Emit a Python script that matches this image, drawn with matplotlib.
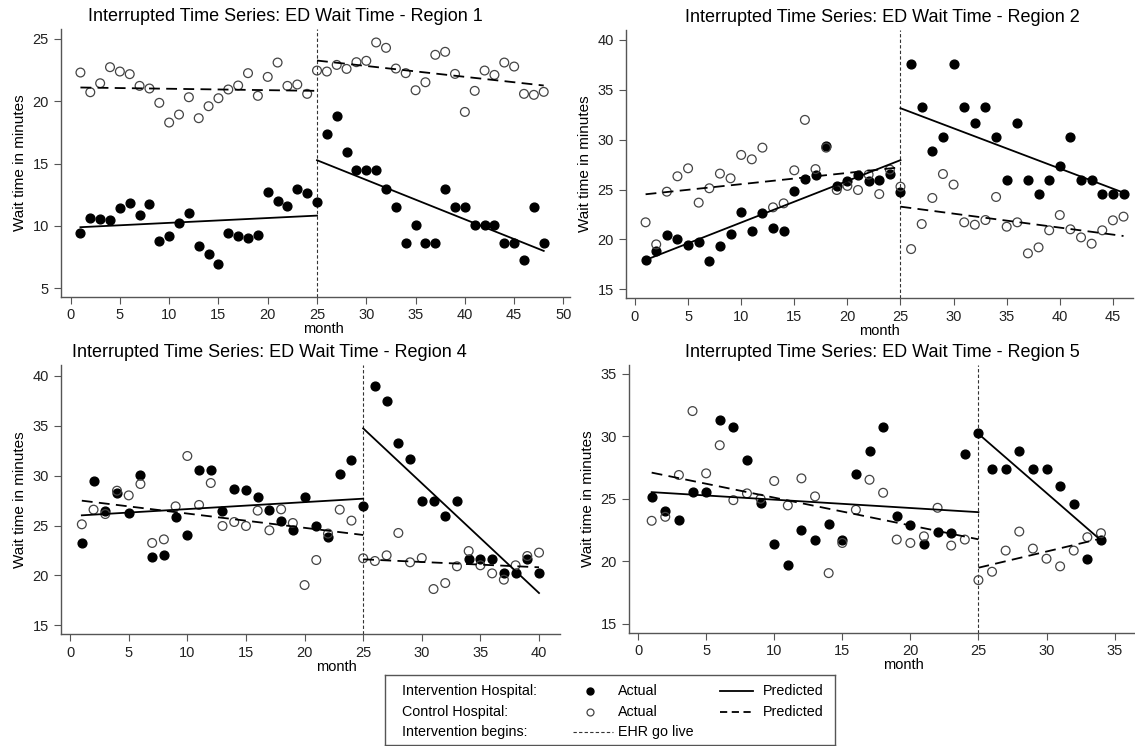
import matplotlib
matplotlib.use("Agg")
import matplotlib.pyplot as plt
import numpy as np

plt.rcParams['font.family'] = ['Liberation Sans', 'DejaVu Sans']

# Region 1
r1_month = np.arange(1, 49)
r1_int = [9.47, 10.6, 10.53, 10.45, 11.47, 11.87, 10.9, 11.74, 8.8, 9.17, 10.24, 11.07,
          8.37, 7.78, 6.98, 9.47, 9.17, 9.06, 9.28, 12.7, 12.03, 11.63, 13.0, 12.62, 11.95,
          17.38, 18.8, 15.9, 14.5, 14.5, 14.5, 13.0, 11.55, 8.66, 10.1, 8.66, 8.66, 13.0,
          11.55, 11.55, 10.1, 10.1, 10.1, 8.66, 8.66, 7.25, 11.55, 8.66]
r1_ctl = [22.3, 20.72, 21.44, 22.73, 22.38, 22.17, 21.23, 21.02, 19.87, 18.29, 18.93, 20.32,
          18.64, 19.6, 20.24, 20.94, 21.26, 22.25, 20.43, 21.95, 23.1, 21.23, 21.34, 20.59, 22.46,
          22.38, 22.91, 22.59, 23.13, 23.24, 24.71, 24.28, 22.62, 22.25, 20.88, 21.52, 23.72,
          23.96, 22.19, 19.14, 20.83, 22.46, 22.11, 23.1, 22.78, 20.59, 20.51, 20.75]
r1_pred_int = [9.90, 10.83, 15.27, 8.00]
r1_pred_ctl = [21.10, 20.83, 23.26, 21.26]

# Region 2
r2_month = np.arange(1, 47)
r2_int = [17.97, 18.88, 20.45, 20.01, 19.45, 19.78, 17.87, 19.31, 20.58, 22.79, 20.82, 22.62,
          21.18, 20.82, 24.89, 26.03, 26.46, 29.4, 25.33, 25.87, 26.5, 25.86, 25.96, 26.53, 24.79,
          37.59, 33.25, 28.84, 30.27, 37.59, 33.25, 31.71, 33.25, 30.27, 25.96, 31.71, 25.96,
          24.53, 25.96, 27.4, 30.27, 25.96, 25.96, 24.53, 24.53, 24.53]
r2_ctl = [21.72, 19.51, 24.79, 26.33, 27.13, 23.69, 25.13, 26.6, 26.13, 28.47, 28.03, 29.2,
          23.22, 23.62, 26.93, 31.98, 27.05, 29.2, 24.96, 25.37, 24.96, 26.5, 24.55, 27.0, 25.29,
          19.04, 21.55, 24.16, 26.56, 25.5, 21.72, 21.48, 21.95, 24.26, 21.28, 21.72, 18.61,
          19.21, 20.92, 22.45, 21.02, 20.21, 19.58, 20.92, 21.92, 22.29]
r2_pred_int = [17.95, 27.95, 33.15, 24.69]
r2_pred_ctl = [24.53, 27.23, 23.29, 20.35]

# Region 4
r4_month = np.arange(1, 41)
r4_int = [23.26, 29.47, 26.5, 28.3, 26.3, 30.07, 21.82, 22.02, 25.86, 24.09, 30.54, 30.6,
          26.5, 28.64, 28.57, 27.83, 26.56, 25.46, 24.53, 27.83, 24.99, 23.86, 30.17, 31.58, 26.97,
          39.0, 37.53, 33.25, 31.71, 27.43, 27.43, 25.96, 27.43, 21.65, 21.65, 21.65, 20.25,
          20.25, 21.68, 20.25]
r4_ctl = [25.13, 26.6, 26.16, 28.5, 28.03, 29.17, 23.26, 23.62, 26.93, 31.98, 27.07, 29.27,
          24.96, 25.36, 24.96, 26.5, 24.53, 26.63, 25.26, 19.04, 21.55, 24.2, 26.6, 25.5, 21.72,
          21.45, 22.02, 24.26, 21.32, 21.75, 18.64, 19.24, 20.92, 22.45, 21.02, 20.21, 19.58,
          21.02, 21.95, 22.29]
r4_pred_int = [26.03, 27.70, 34.75, 18.24]
r4_pred_ctl = [27.50, 24.06, 21.62, 20.82]

# Region 5
r5_month = np.arange(1, 35)
r5_int = [25.16, 24.06, 23.32, 25.56, 25.56, 31.28, 30.7, 28.1, 24.63, 21.36, 19.73, 22.51,
          21.74, 23.02, 21.74, 26.98, 28.85, 30.7, 23.61, 22.91, 21.39, 22.38, 22.25, 28.56, 30.29,
          27.41, 27.41, 28.85, 27.41, 27.41, 25.99, 24.55, 20.16, 21.68]
r5_ctl = [23.24, 23.56, 26.9, 32.01, 27.03, 29.28, 24.89, 25.43, 25.0, 26.42, 24.47, 26.63,
          25.19, 19.06, 21.47, 24.12, 26.52, 25.48, 21.74, 21.47, 22.0, 24.28, 21.26, 21.74, 18.5,
          19.17, 20.86, 22.38, 21.02, 20.21, 19.6, 20.86, 21.93, 22.25]
r5_pred_int = [25.53, 23.93, 30.19, 21.68]
r5_pred_ctl = [27.09, 21.76, 19.49, 21.82]

regions = ["Region 1", "Region 2", "Region 4", "Region 5"]
go_live = 25

panels = [
    (r1_month, r1_int, r1_ctl, r1_pred_int, r1_pred_ctl),
    (r2_month, r2_int, r2_ctl, r2_pred_int, r2_pred_ctl),
    (r4_month, r4_int, r4_ctl, r4_pred_int, r4_pred_ctl),
    (r5_month, r5_int, r5_ctl, r5_pred_int, r5_pred_ctl),
]

# axes rectangles and limits
rects = [[0.0535, 0.6023, 0.449, 0.359],
         [0.5513, 0.600, 0.447, 0.360],
         [0.0535, 0.1497, 0.440, 0.361],
         [0.554, 0.1519, 0.446, 0.359]]
xlims = [(-1.0, 50.7), (-0.87, 46.9), (-0.8, 41.8), (-0.68, 36.5)]
ylims = [(4.33, 25.8), (14.1, 41.0), (14.1, 41.1), (14.3, 35.7)]
xticks = [np.arange(0, 51, 5), np.arange(0, 46, 5), np.arange(0, 41, 5), np.arange(0, 36, 5)]
yticks = [np.arange(5, 26, 5), np.arange(15, 41, 5), np.arange(15, 41, 5), np.arange(15, 36, 5)]
month_x = [0.515, 0.5, 0.553, 0.542]
title_x = [0.44, 0.505, 0.417, 0.50]

fig = plt.figure(figsize=(11.35, 7.46), dpi=100)

for i, (m, yi, yc, pi, pc) in enumerate(panels):
    ax = fig.add_axes(rects[i])
    ax.scatter(m, yi, s=40, color='black', zorder=3)
    ax.scatter(m, yc, s=40, facecolors='none', edgecolors='#444444', linewidths=0.9, zorder=4)
    last = m[-1]
    ax.plot([1, go_live], pi[:2], color='black', lw=1.3, zorder=5)
    ax.plot([go_live, last], pi[2:], color='black', lw=1.3, zorder=5)
    ax.plot([1, go_live], pc[:2], color='black', lw=1.3, ls=(0, (6, 3.5)), zorder=5)
    ax.plot([go_live, last], pc[2:], color='black', lw=1.3, ls=(0, (6, 3.5)), zorder=5)
    ax.axvline(go_live, color='#333333', lw=0.8, ls=(0, (3, 2)), zorder=2)

    ax.set_xlim(xlims[i])
    ax.set_ylim(ylims[i])
    ax.set_xticks(xticks[i])
    ax.set_yticks(yticks[i])
    for s in ['top', 'right']:
        ax.spines[s].set_visible(False)
    for s in ['left', 'bottom']:
        ax.spines[s].set_color('#555555')
        ax.spines[s].set_linewidth(1.0)
    ax.tick_params(length=5, width=0.8, color='#555555', labelsize=10.5, labelcolor='#222222')
    ax.set_title("Interrupted Time Series: ED Wait Time - " + regions[i], fontsize=13,
                 pad=6, x=title_x[i])
    ax.set_ylabel("Wait time in minutes", fontsize=11)
    ax.set_xlabel("month", fontsize=10.5)
    ax.xaxis.set_label_coords(month_x[i], -0.095)

# legend box drawn by hand
lg = fig.add_axes([385 / 1135, 1 - 745 / 746, 450 / 1135, 70 / 746])
lg.set_xlim(385, 835)
lg.set_ylim(745, 675)
lg.set_xticks([])
lg.set_yticks([])
for s in lg.spines.values():
    s.set_color('#555555')
    s.set_linewidth(1.0)
rows = [690.7, 711.7, 731.7]
fs = 10.3
lg.text(402, rows[0], "Intervention Hospital:", va='center', fontsize=fs)
lg.text(402, rows[1], "Control Hospital:", va='center', fontsize=fs)
lg.text(402, rows[2], "Intervention begins:", va='center', fontsize=fs)
lg.plot([590], [rows[0]], 'o', color='black', ms=5)
lg.plot([590], [rows[1]], 'o', mfc='none', mec='#444444', mew=0.9, ms=5)
lg.text(618, rows[0], "Actual", va='center', fontsize=fs)
lg.text(618, rows[1], "Actual", va='center', fontsize=fs)
lg.plot([720, 753], [rows[0], rows[0]], color='black', lw=1.3)
lg.plot([720, 753], [rows[1], rows[1]], color='black', lw=1.3, ls=(0, (4, 2.5)))
lg.text(763, rows[0], "Predicted", va='center', fontsize=fs)
lg.text(763, rows[1], "Predicted", va='center', fontsize=fs)
lg.plot([573, 613], [rows[2], rows[2]], color='#333333', lw=0.8, ls=(0, (3, 2)))
lg.text(618, rows[2], "EHR go live", va='center', fontsize=fs)

fig.savefig("out.png", dpi=100)
